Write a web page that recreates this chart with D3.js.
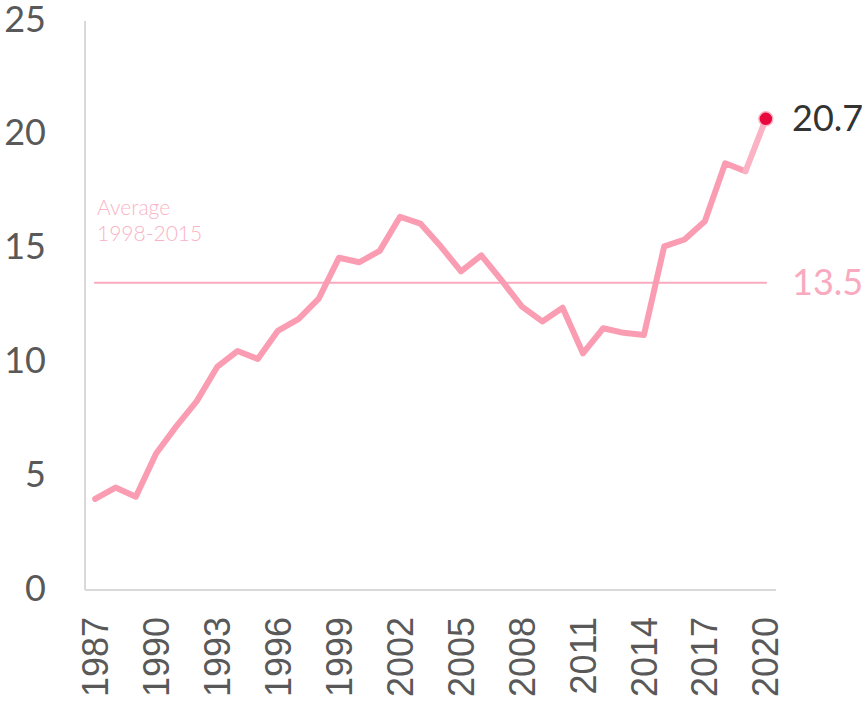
<!DOCTYPE html>
<html>
<head>
<meta charset="utf-8">
<script src="https://cdn.jsdelivr.net/npm/d3@7"></script>
<style>
  body { margin: 0; background: #fff; }
  .ylab { font-family: Lato, "Open Sans", sans-serif; font-size: 36px; fill: #595959; }
  .xlab { font-family: "Liberation Sans", Arial, sans-serif; font-size: 36px; fill: #595959; }
</style>
</head>
<body>
<script>
//chart values
var years = d3.range(1987, 2021);
var values = [4.0, 4.5, 4.1, 6.0, 7.2, 8.3, 9.8, 10.5, 10.15, 11.4, 11.9,
    12.8, 14.6, 14.4, 14.9, 16.4, 16.1, 15.1, 14.0, 14.7, 13.6, 12.45,
    11.8, 12.4, 10.4, 11.5, 11.3, 11.2, 15.1, 15.4, 16.2, 18.75, 18.4, 20.7];
var yTicks = [0, 5, 10, 15, 20, 25];
var xTickYears = [1987, 1990, 1993, 1996, 1999, 2002, 2005, 2008, 2011, 2014, 2017, 2020];
var average = 13.5;
var averageLabel = ["Average", "1998-2015"];

window.onload = drawChart();

function drawChart(){
    var width = 864,
        height = 703;

    var svg = d3.select("body")
        .append("svg")
        .attr("width", width)
        .attr("height", height);

    //plot area
    var left = 85, right = 776, top = 21, bottom = 590;

    var x = d3.scalePoint()
        .domain(years)
        .range([left, right])
        .padding(0.5);

    var y = d3.scaleLinear()
        .domain([0, 25])
        .range([bottom, top]);

    //axis lines
    svg.append("line")
        .attr("x1", left).attr("x2", left)
        .attr("y1", top).attr("y2", bottom)
        .attr("stroke", "#d9d9d9").attr("stroke-width", 2);
    svg.append("line")
        .attr("x1", left).attr("x2", right)
        .attr("y1", bottom).attr("y2", bottom)
        .attr("stroke", "#d9d9d9").attr("stroke-width", 2);

    //y tick labels
    svg.selectAll(".ylab")
        .data(yTicks)
        .enter()
        .append("text")
        .attr("class", "ylab")
        .attr("x", 46)
        .attr("y", function(d){ return y(d) - 2; })
        .attr("dy", "0.35em")
        .attr("text-anchor", "end")
        .text(function(d){ return d; });

    //x tick labels, rotated
    svg.selectAll(".xlab")
        .data(xTickYears)
        .enter()
        .append("text")
        .attr("class", "xlab")
        .attr("transform", function(d){ return "translate(" + x(d) + ",617) rotate(-90)"; })
        .attr("dy", "0.35em")
        .attr("text-anchor", "end")
        .text(function(d){ return d; });

    //average line
    svg.append("line")
        .attr("x1", x(years[0]) - 1)
        .attr("x2", x(years[years.length - 1]) + 1)
        .attr("y1", y(average)).attr("y2", y(average))
        .attr("stroke", "#f9aabe").attr("stroke-width", 2);

    svg.append("text")
        .attr("x", 792)
        .attr("y", y(average))
        .attr("dy", "0.35em")
        .attr("font-family", "Lato, sans-serif")
        .attr("font-size", 36)
        .attr("fill", "#f9aabe")
        .text(average.toFixed(1));

    var avgText = svg.append("text")
        .attr("font-family", "Lato, sans-serif")
        .attr("font-weight", 300)
        .attr("font-size", 21)
        .attr("fill", "#fab4c6");
    avgText.selectAll("tspan")
        .data(averageLabel)
        .enter()
        .append("tspan")
        .attr("x", 97)
        .attr("y", function(d, i){ return 215 + i * 26; })
        .text(function(d){ return d; });

    //main line
    var pts = years.map(function(d, i){ return [x(d), y(values[i])]; });
    var line = d3.line();

    svg.append("path")
        .datum(pts.slice(0, pts.length - 1))
        .attr("d", line)
        .attr("fill", "none")
        .attr("stroke", "#fa9db3")
        .attr("stroke-width", 6)
        .attr("stroke-linejoin", "round")
        .attr("stroke-linecap", "round");

    svg.append("path")
        .datum(pts.slice(pts.length - 2))
        .attr("d", line)
        .attr("fill", "none")
        .attr("stroke", "#fbb2c4")
        .attr("stroke-width", 6)
        .attr("stroke-linecap", "round");

    //last point marker and label
    var last = pts[pts.length - 1];
    svg.append("circle")
        .attr("cx", last[0])
        .attr("cy", last[1])
        .attr("r", 7)
        .attr("fill", "#e8083e")
        .attr("stroke", "#fbb2c4")
        .attr("stroke-width", 1.5);

    svg.append("text")
        .attr("x", 792)
        .attr("y", last[1])
        .attr("dy", "0.35em")
        .attr("font-family", "Lato, sans-serif")
        .attr("font-size", 36)
        .attr("fill", "#333333")
        .text(values[values.length - 1].toFixed(1));
}
</script>
</body>
</html>
